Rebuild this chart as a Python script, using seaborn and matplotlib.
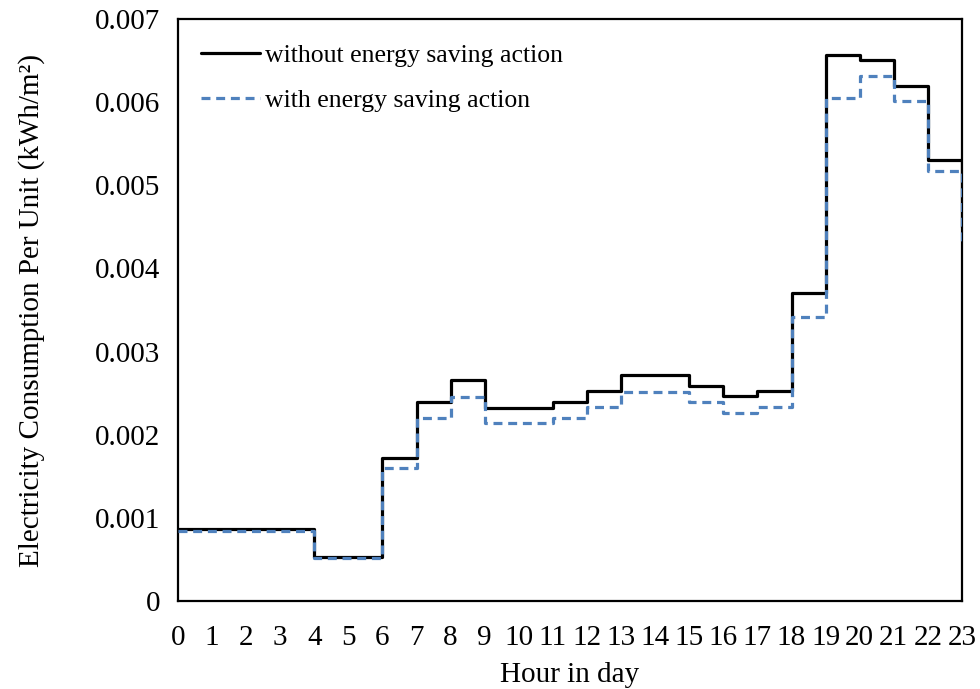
import numpy as np
import pandas as pd
import matplotlib
matplotlib.use('Agg')
import matplotlib.pyplot as plt
import seaborn as sns

# hourly values (kWh/m2), step drawn from each hour to the next
hours = list(range(24))
without_saving = [0.000866, 0.000866, 0.000866, 0.000866, 0.000529, 0.000529,
                  0.00172, 0.00239, 0.00266, 0.00232, 0.00232, 0.00239,
                  0.00252, 0.00272, 0.00272, 0.00259, 0.00246, 0.00252,
                  0.00371, 0.00657, 0.00651, 0.00619, 0.00531, 0.0045]
with_saving = [0.00084, 0.00084, 0.00084, 0.00084, 0.000513, 0.000513,
               0.00160, 0.00220, 0.00245, 0.00214, 0.00214, 0.00220,
               0.00233, 0.00251, 0.00251, 0.00239, 0.00226, 0.00233,
               0.00342, 0.00605, 0.00632, 0.00601, 0.00517, 0.0043]
y_ticks = [0, 0.001, 0.002, 0.003, 0.004, 0.005, 0.006, 0.007]
y_labels = ['0', '0.001', '0.002', '0.003', '0.004', '0.005', '0.006', '0.007']

df = pd.DataFrame({'hour': hours, 'without': without_saving, 'with': with_saving})

sns.set_style('white')
plt.rcParams['font.family'] = ['Liberation Serif', 'DejaVu Serif']
plt.rcParams['text.color'] = 'black'
plt.rcParams['axes.labelcolor'] = 'black'
plt.rcParams['xtick.color'] = 'black'
plt.rcParams['ytick.color'] = 'black'

fig = plt.figure(figsize=(9.8, 6.89), dpi=100)
ax = fig.add_axes([0.1816, 0.1277, 0.8, 0.8447])

sns.lineplot(data=df, x='hour', y='without', ax=ax, color='black', linewidth=2.3,
             drawstyle='steps-post', label='without energy saving action', zorder=3)
sns.lineplot(data=df, x='hour', y='with', ax=ax, color='#4F81BD', linewidth=2.3,
             linestyle=(0, (2.8, 1.8)), drawstyle='steps-post',
             label='with energy saving action', zorder=3)

ax.set_xlim(0, 23)
ax.set_ylim(0, 0.007)
ax.set_xticks(hours)
ax.set_xticklabels([str(h) for h in hours])
ax.set_yticks(y_ticks)
ax.set_yticklabels(y_labels)
ax.tick_params(axis='both', direction='in', labelsize=21, color='black', width=1.0)
ax.tick_params(axis='y', length=6.5, pad=13)
ax.tick_params(axis='x', length=5, pad=17)

for s in ax.spines.values():
    s.set_color('black')
    s.set_linewidth(1.6)

ax.set_xlabel('Hour in day', fontsize=21, labelpad=8)
ax.set_ylabel('Electricity Consumption Per Unit (kWh/m²)', fontsize=21, labelpad=36)

leg = ax.legend(loc='upper left', frameon=False, fontsize=18.5, handlelength=2.3,
                handletextpad=0.2, labelspacing=0.85, borderaxespad=0.5,
                bbox_to_anchor=(0.0, 0.997))

fig.savefig('out.png', dpi=100)
